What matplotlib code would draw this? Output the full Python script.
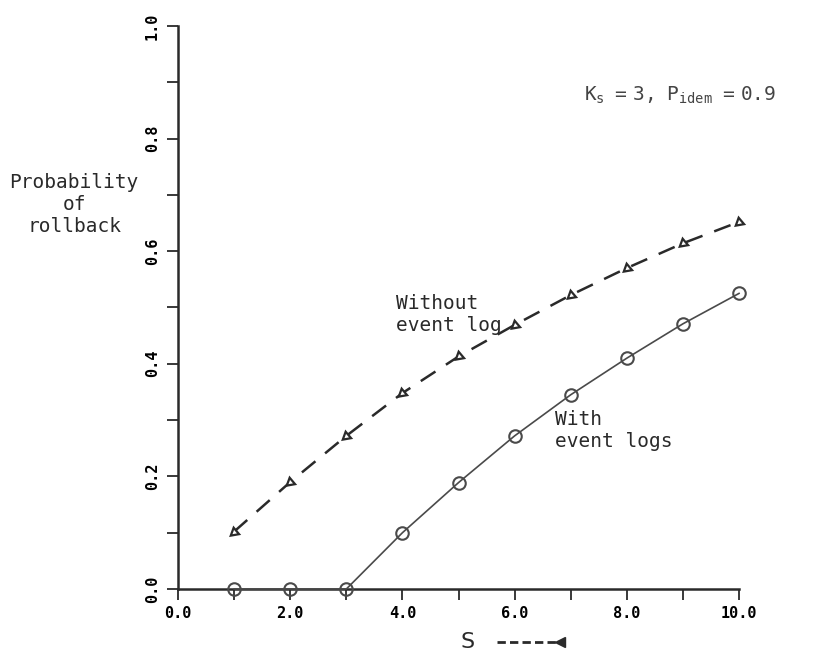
import numpy as np
import matplotlib.pyplot as plt
from matplotlib.ticker import MultipleLocator, FormatStrFormatter

# checkpoint interval S and rollback probabilities
s_values = [1, 2, 3, 4, 5, 6, 7, 8, 9, 10]
with_logs = [0.0, 0.0, 0.0, 0.100, 0.189, 0.272, 0.345, 0.410, 0.471, 0.525]
without_log = [0.102, 0.190, 0.272, 0.348, 0.413, 0.469, 0.522, 0.570, 0.614, 0.652]

plt.rcParams['mathtext.fontset'] = 'custom'
plt.rcParams['mathtext.rm'] = 'DejaVu Sans Mono'
plt.rcParams['mathtext.it'] = 'DejaVu Sans Mono'

mono = 'DejaVu Sans Mono'
ink = '#2a2a2a'

fig = plt.figure(figsize=(8.14, 6.52), dpi=100)
ax = fig.add_axes([0.2187, 0.0966, 0.6892, 0.8636])

# without event log: dashed line, arrow-like triangles
ax.plot(s_values, without_log, color=ink, lw=1.8, dashes=(7, 5),
        marker=(3, 0, 130), markersize=7, markerfacecolor='white',
        markeredgecolor=ink, markeredgewidth=1.6, clip_on=False, zorder=3)
# with event logs: solid line, open circles
ax.plot(s_values, with_logs, color='#4a4a4a', lw=1.2, marker='o',
        markersize=9, markerfacecolor='none', markeredgecolor='#4a4a4a',
        markeredgewidth=1.5, clip_on=False, zorder=3)

ax.set_xlim(0, 10)
ax.set_ylim(0, 1)
for side in ['top', 'right']:
    ax.spines[side].set_visible(False)
for side in ['left', 'bottom']:
    ax.spines[side].set_linewidth(1.8)
    ax.spines[side].set_color(ink)

ax.xaxis.set_major_locator(MultipleLocator(2))
ax.xaxis.set_minor_locator(MultipleLocator(1))
ax.yaxis.set_major_locator(MultipleLocator(0.2))
ax.yaxis.set_minor_locator(MultipleLocator(0.1))
ax.xaxis.set_major_formatter(FormatStrFormatter('%.1f'))
ax.yaxis.set_major_formatter(FormatStrFormatter('%.1f'))
ax.tick_params(which='both', direction='out', length=8, width=1.3, color=ink)
ax.tick_params(axis='x', pad=4)
ax.tick_params(axis='y', pad=5)
for lab in ax.get_xticklabels():
    lab.set_fontfamily(mono)
    lab.set_fontweight('bold')
    lab.set_fontsize(11)
for lab in ax.get_yticklabels():
    lab.set_fontfamily(mono)
    lab.set_fontweight('bold')
    lab.set_fontsize(11)
    lab.set_rotation(90)
    lab.set_va('center')

fig.text(0.091, 0.686, 'Probability\nof\nrollback', ha='center', va='center',
         family=mono, fontsize=14, color=ink)

ax.text(3.89, 0.488, 'Without\nevent log', ha='left', va='center',
        family=mono, fontsize=14, color=ink)
ax.text(6.72, 0.282, 'With\nevent logs', ha='left', va='center',
        family=mono, fontsize=14, color=ink)

ax.text(7.24, 0.877, r'$\mathrm{K_s\ \ =\ 3,\ \ P_{idem}\ \ =\ 0.9}$',
        ha='left', va='center', fontsize=14, color='#444444', clip_on=False)

# x axis label with the dashed arrow
fig.text(0.574, 0.015, 'S', ha='center', va='center', fontsize=16, color=ink)
fig.add_artist(plt.Line2D([0.610, 0.685], [0.015, 0.015], transform=fig.transFigure,
                          color=ink, lw=2, dashes=(3, 1.5)))
fig.add_artist(plt.Line2D([0.688], [0.015], transform=fig.transFigure,
                          marker='<', markersize=7, color=ink, lw=0))

fig.savefig('out.png', dpi=100)
